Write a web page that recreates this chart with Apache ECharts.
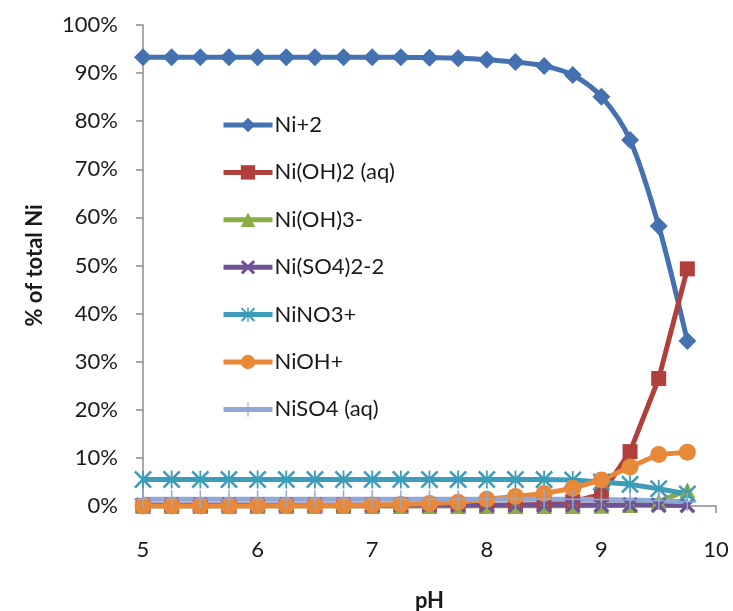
<!DOCTYPE html>
<html>
<head>
<meta charset="utf-8">
<script src="https://cdn.jsdelivr.net/npm/echarts@6/dist/echarts.min.js"></script>
<style>
html,body{margin:0;padding:0;background:#fff;}
#chart{width:733px;height:611px;}
</style>
</head>
<body>
<div id="chart"></div>
<script>
const pH = [5, 5.25, 5.5, 5.75, 6, 6.25, 6.5, 6.75, 7, 7.25, 7.5, 7.75, 8, 8.25, 8.5, 8.75, 9, 9.25, 9.5, 9.75];
const seriesNames = ['Ni+2', 'Ni(OH)2 (aq)', 'Ni(OH)3-', 'Ni(SO4)2-2', 'NiNO3+', 'NiOH+', 'NiSO4 (aq)'];
const niPlus2   = [93.3, 93.3, 93.3, 93.3, 93.3, 93.3, 93.3, 93.3, 93.3, 93.3, 93.2, 93.1, 92.8, 92.3, 91.5, 89.6, 85.1, 76.1, 58.2, 34.3];
const niOH2aq   = [0, 0, 0, 0, 0, 0, 0, 0, 0, 0, 0, 0, 0.1, 0.15, 0.3, 0.9, 2.4, 11.3, 26.5, 49.3];
const niOH3     = [0, 0, 0, 0, 0, 0, 0, 0, 0, 0, 0, 0, 0, 0, 0, 0, 0.05, 0.2, 0.9, 3.3];
const niSO42    = [0.2, 0.2, 0.2, 0.2, 0.2, 0.2, 0.2, 0.2, 0.2, 0.2, 0.2, 0.2, 0.2, 0.2, 0.2, 0.2, 0.2, 0.2, 0.15, 0.1];
const niNO3     = [5.5, 5.5, 5.5, 5.5, 5.5, 5.5, 5.5, 5.5, 5.5, 5.5, 5.5, 5.5, 5.5, 5.5, 5.5, 5.4, 5.0, 4.5, 3.6, 2.5];
const niOH      = [0, 0, 0, 0, 0.05, 0.05, 0.1, 0.1, 0.2, 0.3, 0.5, 0.8, 1.4, 2.0, 2.6, 3.7, 5.4, 8.1, 10.7, 11.2];
const niSO4aq   = [1.4, 1.4, 1.4, 1.4, 1.4, 1.4, 1.4, 1.4, 1.4, 1.4, 1.4, 1.4, 1.4, 1.4, 1.4, 1.4, 1.35, 1.25, 1.1, 0.9];
const yTicks = [0, 10, 20, 30, 40, 50, 60, 70, 80, 90, 100];

const colors = ['#4472B0', '#B0403C', '#8AAE45', '#6E5294', '#3D9DB8', '#E8893A', '#8FA8D6'];
const xPath = 'path://M0,3 L3,0 L10,7 L17,0 L20,3 L13,10 L20,17 L17,20 L10,13 L3,20 L0,17 L7,10 Z';
const starPath = 'path://M0,2 L2,0 L10,8 L18,0 L20,2 L12,10 L20,18 L18,20 L10,12 L2,20 L0,18 L8,10 Z M9,0 L11,0 L11,20 L9,20 Z';
const plusPath = 'path://M9.2,0 L10.8,0 L10.8,9.2 L20,9.2 L20,10.8 L10.8,10.8 L10.8,20 L9.2,20 L9.2,10.8 L0,10.8 L0,9.2 L9.2,9.2 Z';

const allData = [niPlus2, niOH2aq, niOH3, niSO42, niNO3, niOH, niSO4aq];
const symbols = ['diamond', 'rect', 'triangle', xPath, starPath, 'circle', plusPath];
const sizes = [18, 15, 16, 16, 18, 17, 18];

const FONT = 'Lato, "Open Sans", sans-serif';

const series = allData.map((arr, i) => ({
  name: seriesNames[i],
  type: 'line',
  data: pH.map((x, j) => [x, arr[j]]),
  symbol: symbols[i],
  symbolSize: sizes[i],
  smooth: i === 0 ? 0.3 : false,
  showAllSymbol: true,
  lineStyle: { color: colors[i], width: 5 },
  itemStyle: { color: colors[i], borderWidth: 0 },
  emphasis: { disabled: true },
  animation: false
}));

const chart = echarts.init(document.getElementById('chart'), null, { renderer: 'canvas' });
chart.setOption({
  backgroundColor: '#ffffff',
  animation: false,
  color: colors,
  textStyle: { fontFamily: FONT },
  grid: { left: 143, right: 17, top: 25, bottom: 105, containLabel: false, outerBoundsMode: 'none' },
  legend: {
    orient: 'vertical',
    left: 221,
    top: 114,
    padding: 0,
    itemWidth: 49,
    itemHeight: 18,
    itemGap: 25.4,
    lineStyle: { width: 5 },
    textStyle: { fontFamily: FONT, fontSize: 22, color: '#1a1a1a', padding: [0, 0, 0, -3] },
    data: seriesNames
  },
  xAxis: {
    type: 'value',
    min: 5,
    max: 10,
    interval: 1,
    name: 'pH',
    nameLocation: 'middle',
    nameGap: 84,
    nameTextStyle: { fontFamily: FONT, fontSize: 22, fontWeight: 'bold', color: '#1a1a1a' },
    axisLine: { show: true, onZero: false, lineStyle: { color: '#8c8c8c', width: 1.5 } },
    axisTick: { show: true, length: 7, lineStyle: { color: '#8c8c8c', width: 1.5 } },
    axisLabel: { margin: 33, fontSize: 22, color: '#1a1a1a', fontFamily: FONT },
    splitLine: { show: false }
  },
  yAxis: {
    type: 'value',
    min: 0,
    max: 100,
    interval: 10,
    name: '% of total Ni',
    nameLocation: 'middle',
    nameGap: 97,
    nameTextStyle: { fontFamily: FONT, fontSize: 22, fontWeight: 'bold', color: '#1a1a1a' },
    axisLine: { show: true, lineStyle: { color: '#8c8c8c', width: 1.5 } },
    axisTick: { show: true, length: 7, lineStyle: { color: '#8c8c8c', width: 1.5 } },
    axisLabel: {
      margin: 25, fontSize: 22, color: '#1a1a1a', fontFamily: FONT,
      formatter: v => (yTicks.indexOf(v) >= 0 ? v + '%' : '')
    },
    splitLine: { show: false }
  },
  series: series
});
</script>
</body>
</html>
